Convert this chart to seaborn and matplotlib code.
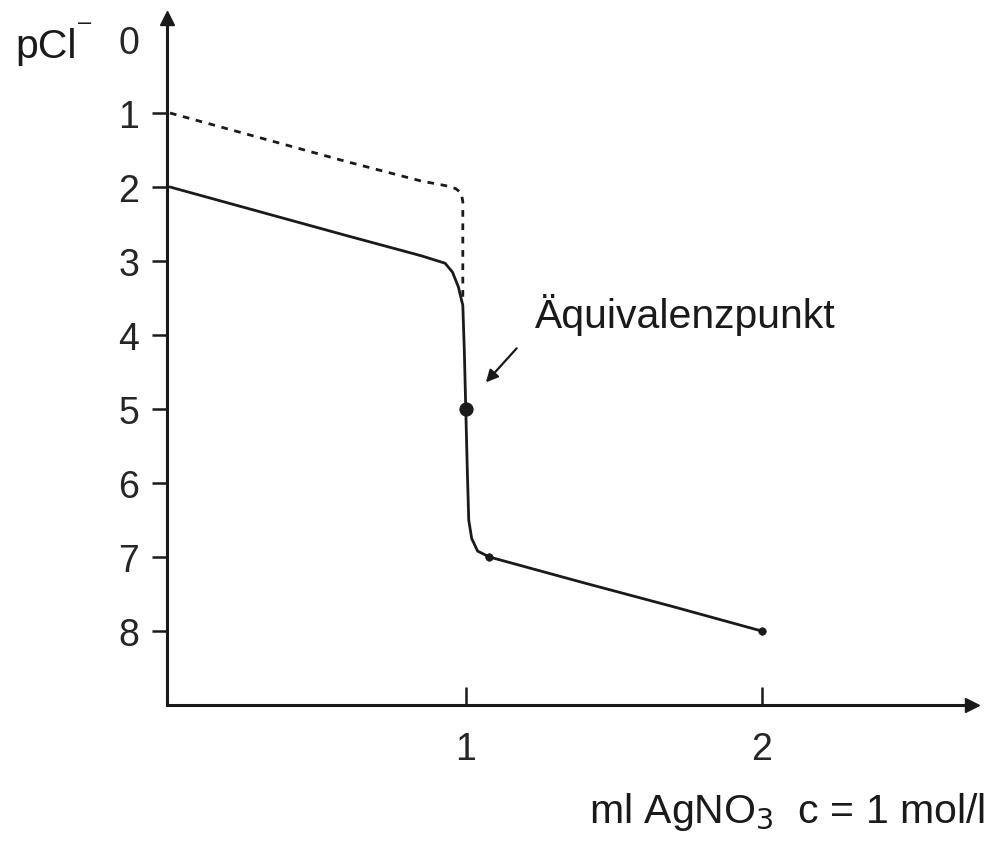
import matplotlib
matplotlib.use("Agg")
import matplotlib.pyplot as plt
import seaborn as sns
import pandas as pd

sns.set_theme(style="white")
plt.rcParams['font.family'] = ['Liberation Sans', 'DejaVu Sans']

# data
solid_x = [0.0, 0.30, 0.60, 0.85, 0.93, 0.955, 0.975, 0.99, 0.995, 1.0, 1.005, 1.01, 1.02, 1.04, 1.08, 1.40, 1.70, 2.0]
solid_y = [2.0, 2.33, 2.66, 2.93, 3.03, 3.15, 3.35, 3.6, 4.2, 5.0, 5.8, 6.5, 6.75, 6.92, 7.0, 7.35, 7.67, 8.0]
dashed_x = [0.0, 0.30, 0.60, 0.85, 0.93, 0.965, 0.985, 0.99, 0.99, 0.99]
dashed_y = [1.0, 1.33, 1.66, 1.92, 1.98, 2.02, 2.08, 2.2, 3.0, 3.5]
big_dot_x = [1.0]
big_dot_y = [5.0]
small_dot_x = [1.08, 2.0]
small_dot_y = [7.0, 8.0]
y_ticks = [0, 1, 2, 3, 4, 5, 6, 7, 8]
x_ticks = [1, 2]
annotation_text = "Äquivalenzpunkt"

W, H = 990, 845
FS = 27
FS2 = 29.5
fig = plt.figure(figsize=(W / 100, H / 100), dpi=100)
left, right, top, bottom = 167, 972, 19, 706
ax = fig.add_axes([left / W, 1 - bottom / H, (right - left) / W, (bottom - top) / H])

color = "#1a1a1a"
solid = pd.DataFrame({"x": solid_x, "y": solid_y})
dashed = pd.DataFrame({"x": dashed_x, "y": dashed_y})
sns.lineplot(data=solid, x="x", y="y", sort=False, estimator=None, ax=ax,
             color=color, lw=2.0)
sns.lineplot(data=dashed, x="x", y="y", sort=False, estimator=None, ax=ax,
             color=color, lw=2.0, linestyle=(0, (2.4, 2.4)))
sns.scatterplot(x=big_dot_x, y=big_dot_y, ax=ax, color=color, s=90, edgecolor=color, zorder=5)
sns.scatterplot(x=small_dot_x, y=small_dot_y, ax=ax, color=color, s=30, edgecolor=color, zorder=5)

ax.set_xlim(-(167 - 164) / 298, (right - 164) / 298)
ax.set_ylim((bottom - 40) / 74, -(40 - top) / 74)

for s in ["top", "right"]:
    ax.spines[s].set_visible(False)
for s in ["left", "bottom"]:
    ax.spines[s].set_linewidth(2.2)
    ax.spines[s].set_color(color)

ax.set_yticks(y_ticks)
ax.set_yticklabels([str(t) for t in y_ticks], fontsize=FS)
ax.set_xticks(x_ticks)
ax.set_xticklabels([str(t) for t in x_ticks], fontsize=FS)
ax.tick_params(axis="y", direction="out", length=11, width=1.8, color=color, pad=9, left=True)
ax.tick_params(axis="x", direction="in", length=13, width=1.8, color=color, pad=19, bottom=True)
ax.yaxis.get_major_ticks()[0].tick1line.set_visible(False)
ax.set_xlabel("")
ax.set_ylabel("")

# axis arrows
ax.plot(0, 1.0, marker="^", markersize=10, color=color, transform=ax.transAxes, clip_on=False)
ax.plot(1.0, 0, marker=">", markersize=10, color=color, transform=ax.transAxes, clip_on=False)

ax.annotate("", xy=(1.068, 4.64), xytext=(1.172, 4.18),
            arrowprops=dict(arrowstyle="-|>", color=color, lw=1.6, mutation_scale=18,
                            shrinkA=0, shrinkB=0))
ax.text(1.235, 3.89, annotation_text, fontsize=FS2, ha="left", va="baseline", color=color)

fig.text(15 / W, 1 - 47 / H, "pCl", fontsize=FS2, ha="left", va="center", color=color)
fig.text(85 / W, 1 - 23 / H, "–", fontsize=17, ha="center", va="center", color=color)
fig.text(985 / W, 1 - 812 / H, r"ml AgNO$_3$  c = 1 mol/l", fontsize=FS2, ha="right", va="center",
         color=color)

fig.savefig("out.png", dpi=100)
